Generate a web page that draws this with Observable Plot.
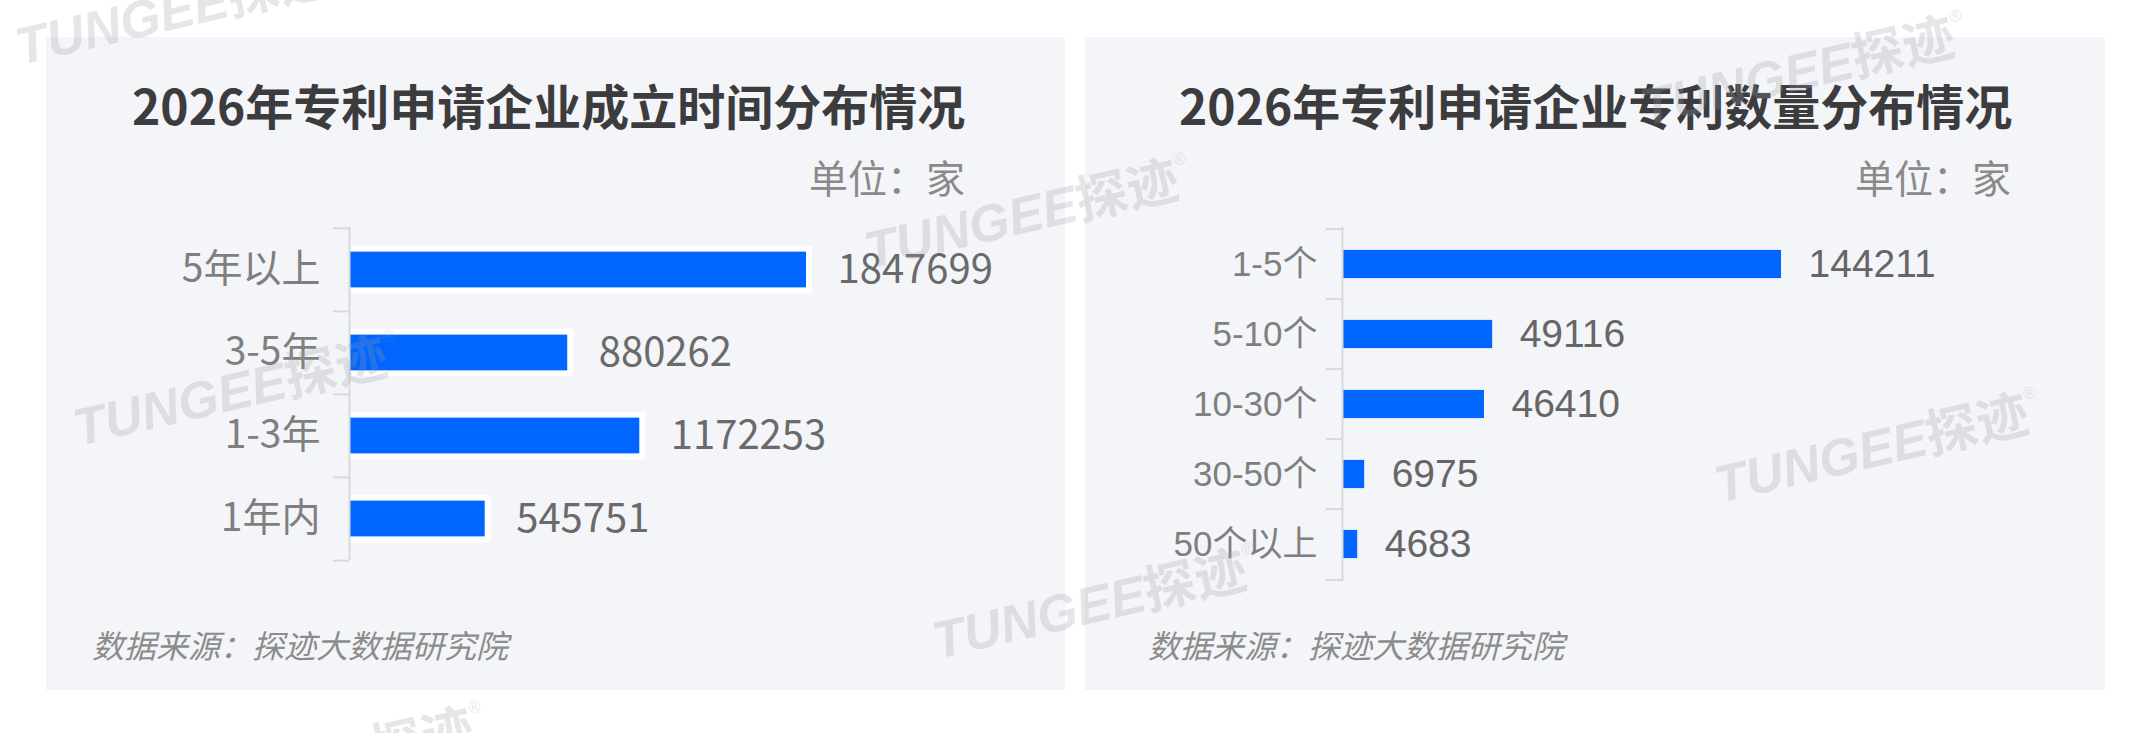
<!DOCTYPE html>
<html>
<head>
<meta charset="utf-8">
<script src="https://cdn.jsdelivr.net/npm/d3@7"></script>
<script src="https://cdn.jsdelivr.net/npm/@observablehq/plot@0.6"></script>
<style>
html, body { margin: 0; padding: 0; background: #ffffff; }
body { width: 2154px; height: 733px; position: relative; overflow: hidden; font-family: "Noto Sans CJK SC", sans-serif; }
.panel { position: absolute; top: 37px; height: 653px; background: #f4f5f9; }
.panel svg { position: absolute; left: 0; top: 0; overflow: visible; }
.title { position: absolute; font-weight: 700; font-size: 48px; color: #3c3c3e; white-space: nowrap; line-height: 1; }
.unit { position: absolute; font-size: 39px; color: #8a8a8a; white-space: nowrap; line-height: 1; }
.src { position: absolute; font-size: 32px; font-style: italic; color: #8c8c8c; white-space: nowrap; line-height: 1; }
.wm { position: absolute; white-space: nowrap; line-height: 1; font-size: 52px; font-weight: 700; color: rgba(150, 155, 165, 0.25);
      transform: translate(-50%, -50%) rotate(-13deg); pointer-events: none; z-index: 10; }
.wm .en { font-family: "Liberation Sans", Arial, sans-serif; font-style: italic; }
.wm .zh { font-family: "Noto Sans CJK SC", sans-serif; }
.wm sup { font-size: 17px; font-family: "Liberation Sans", sans-serif; vertical-align: 32px; font-weight: 400; }
</style>
</head>
<body>
<div class="panel" id="p1" style="left:46px; width:1019px;"></div>
<div class="panel" id="p2" style="left:1085px; width:1020px;"></div>

<div class="title" id="t1" style="left:132px; top:80px;"></div>
<div class="title" id="t2" style="left:1179px; top:80px;"></div>
<div class="unit" id="u1" style="right:1189px; top:157px;"></div>
<div class="unit" id="u2" style="right:143px; top:157px;"></div>
<div class="src" id="s1" style="left:92px; top:628px;"></div>
<div class="src" id="s2" style="left:1148px; top:628px;"></div>

<script>
// ---- data ----
const ageCategories = ["5年以上", "3-5年", "1-3年", "1年内"];
const ageValues = [1847699, 880262, 1172253, 545751];

const patentCategories = ["1-5个", "5-10个", "10-30个", "30-50个", "50个以上"];
const patentValues = [144211, 49116, 46410, 6975, 4683];

const titles = ["2026年专利申请企业成立时间分布情况", "2026年专利申请企业专利数量分布情况"];
const unitLabel = "单位：家";
const sourceLabel = "数据来源：探迹大数据研究院";
const watermarkEn = "TUNGEE";
const watermarkZh = "探迹";
const watermarkSpots = [[178, 8], [1027, 212], [236, 389], [1095, 602], [1803, 69], [1877, 446], [322, 760]];

document.getElementById("t1").textContent = titles[0];
document.getElementById("t2").textContent = titles[1];
document.getElementById("u1").textContent = unitLabel;
document.getElementById("u2").textContent = unitLabel;
document.getElementById("s1").textContent = sourceLabel;
document.getElementById("s2").textContent = sourceLabel;

function makeChart(cfg) {
  const data = cfg.cats.map((c, i) => ({c, v: cfg.vals[i]}));
  const plotH = cfg.H - cfg.mT - cfg.mB;
  const step = plotH / cfg.cats.length;
  const inset = (step - cfg.barH) / 2;
  const marks = [];
  if (cfg.halo) {
    marks.push(Plot.barX(data, {x: "v", y: "c", fill: "#ffffff", insetTop: inset - cfg.halo, insetBottom: inset - cfg.halo, insetRight: -cfg.halo, rx: 3}));
  }
  marks.push(Plot.barX(data, {x: "v", y: "c", fill: "#0066ff", insetTop: inset, insetBottom: inset}));
  marks.push(Plot.ruleX([0], {stroke: "#d9d9d9", strokeWidth: 2, dx: -1}));
  marks.push(Plot.ruleY(cfg.cats, {y: d => d, x1: () => 0, x2: () => 0, insetLeft: -16, dx: -1, dy: -step / 2, stroke: "#d9d9d9", strokeWidth: 2}));
  marks.push(Plot.ruleY([cfg.cats[cfg.cats.length - 1]], {y: d => d, x1: () => 0, x2: () => 0, insetLeft: -16, dx: -1, dy: step / 2, stroke: "#d9d9d9", strokeWidth: 2}));
  marks.push(Plot.text(data, {x: () => 0, y: "c", text: "c", textAnchor: "end", dx: cfg.labelDx, fill: cfg.labelColor, fontSize: cfg.labelSize, fontFamily: cfg.labelFont}));
  marks.push(Plot.text(data, {x: "v", y: "c", text: d => String(d.v), textAnchor: "start", dx: cfg.valueDx, fill: cfg.valueColor, fontSize: cfg.valueSize, fontFamily: cfg.valueFont}));
  return Plot.plot({
    width: cfg.W,
    height: cfg.H,
    marginLeft: cfg.mL,
    marginRight: cfg.mR,
    marginTop: cfg.mT,
    marginBottom: cfg.mB,
    style: {background: "transparent", overflow: "visible"},
    x: {domain: [0, d3.max(cfg.vals)], axis: null},
    y: {domain: cfg.cats, axis: null, padding: 0},
    marks
  });
}

document.getElementById("p1").appendChild(makeChart({
  cats: ageCategories, vals: ageValues,
  W: 1019, H: 653, mL: 304, mR: 259, mT: 190, mB: 130,
  barH: 36, halo: 6,
  labelFont: "Noto Sans CJK SC", labelSize: 39, labelColor: "#7f7f7f", labelDx: -30,
  valueFont: "Noto Sans CJK SC", valueSize: 40, valueColor: "#6a6a6a", valueDx: 31
}));

document.getElementById("p2").appendChild(makeChart({
  cats: patentCategories, vals: patentValues,
  W: 1020, H: 653, mL: 258, mR: 324, mT: 190, mB: 109,
  barH: 29, halo: 0,
  labelFont: "Liberation Sans, Noto Sans CJK SC", labelSize: 35, labelColor: "#7f7f7f", labelDx: -26,
  valueFont: "Liberation Sans, Noto Sans CJK SC", valueSize: 39, valueColor: "#666666", valueDx: 27
}));

for (const [x, y] of watermarkSpots) {
  const d = document.createElement("div");
  d.className = "wm";
  d.style.left = x + "px";
  d.style.top = y + "px";
  d.innerHTML = `<span class="en">${watermarkEn}</span><span class="zh">${watermarkZh}</span><sup>®</sup>`;
  document.body.appendChild(d);
}
</script>
</body>
</html>
